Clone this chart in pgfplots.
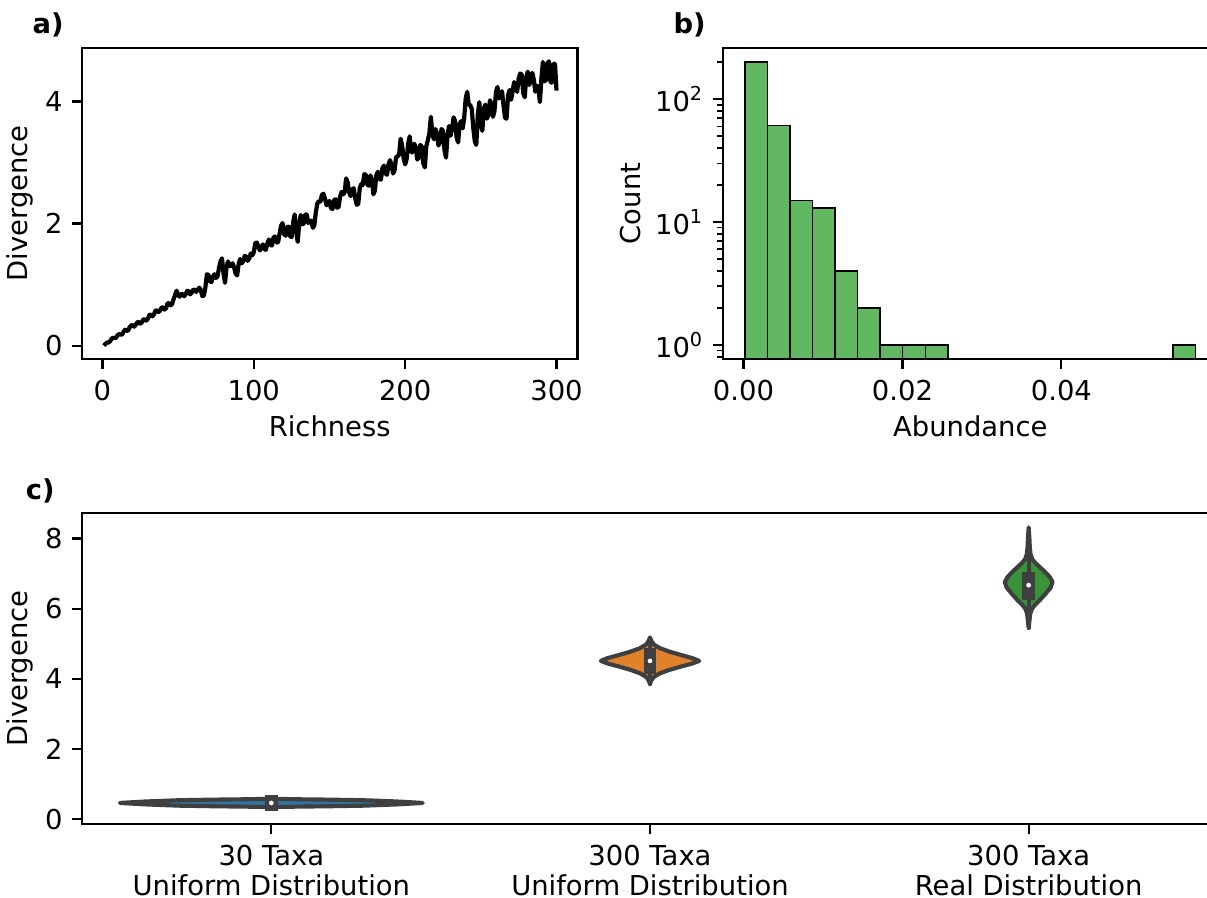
\documentclass[border=0pt]{standalone}
\usepackage{fontspec}
\setmainfont{DejaVu Sans}
\usepackage{pgfplots}
\pgfplotsset{compat=1.18}
\definecolor{histgreen}{HTML}{61B861}
\definecolor{vblue}{HTML}{3274A1}
\definecolor{vorange}{HTML}{E1812C}
\definecolor{vgreen}{HTML}{3A923A}
\definecolor{vgray}{HTML}{3F3F3F}
\newcommand\fs{\fontsize{13.7}{15}\selectfont}

\pgfplotsset{
  mplstyle/.style={
    scale only axis,
    anchor=south west,
    axis line style={line width=1.1pt},
    tick style={black, line width=1.1pt},
    minor tick style={line width=0.83pt},
    major tick length=4.8pt,
    minor tick length=2.75pt,
    tick align=outside,
    tick pos=left,
    tick label style={font=\fs},
    label style={font=\fs},
    /pgf/number format/assume math mode=true,
    xticklabel style={anchor=north, inner sep=0pt, yshift=-5.7pt},
    yticklabel style={anchor=east, inner sep=0pt, xshift=-4.7pt},
    xlabel style={at={(axis description cs:0.5,0)}, anchor=base, yshift=-39pt},
  },
}

\begin{document}
\begin{tikzpicture}

% a) divergence against richness
\begin{axis}[mplstyle, at={(41pt,269.5pt)}, width=247.7pt, height=155.5pt,
  xmin=-13.5, xmax=313.8, ymin=-0.219, ymax=4.878,
  xtick={0,100,200,300}, ytick={0,2,4},
  xticklabels={0,100,200,300}, yticklabels={0,2,4},
  xlabel={Richness}, ylabel={Divergence},
  ylabel style={at={(axis description cs:-0.1252,0.5)}, anchor=center}]
\addplot[black, line width=2.1pt, line join=round] coordinates {
(1,0.00)(2,0.03)(3,0.05)(4,0.05)(5,0.07)(6,0.11)(7,0.13)(8,0.12)(9,0.13)(10,0.17)
(11,0.19)(12,0.18)(13,0.18)(14,0.23)(15,0.26)(16,0.24)(17,0.25)(18,0.30)(19,0.33)(20,0.34)
(21,0.31)(22,0.34)(23,0.38)(24,0.39)(25,0.36)(26,0.38)(27,0.43)(28,0.43)(29,0.41)(30,0.44)
(31,0.50)(32,0.51)(33,0.48)(34,0.51)(35,0.57)(36,0.58)(37,0.55)(38,0.57)(39,0.62)(40,0.63)
(41,0.59)(42,0.61)(43,0.69)(44,0.70)(45,0.66)(46,0.68)(47,0.76)(48,0.83)(49,0.90)(50,0.83)
(51,0.80)(52,0.85)(53,0.84)(54,0.81)(55,0.84)(56,0.90)(57,0.89)(58,0.84)(59,0.87)(60,0.92)
(61,0.91)(62,0.88)(63,0.92)(64,0.95)(65,0.91)(66,0.81)(67,0.82)(68,0.95)(69,1.17)(70,1.16)
(71,1.06)(72,1.04)(73,1.13)(74,1.17)(75,1.11)(76,1.13)(77,1.27)(78,1.38)(79,1.43)(80,1.18)
(81,1.03)(82,1.29)(83,1.38)(84,1.30)(85,1.31)(86,1.35)(87,1.28)(88,1.18)(89,1.15)(90,1.34)
(91,1.42)(92,1.35)(93,1.38)(94,1.47)(95,1.46)(96,1.39)(97,1.43)(98,1.51)(99,1.48)(100,1.53)
(101,1.68)(102,1.69)(103,1.62)(104,1.56)(105,1.62)(106,1.66)(107,1.58)(108,1.57)(109,1.68)(110,1.74)
(111,1.65)(112,1.64)(113,1.77)(114,1.79)(115,1.69)(116,1.69)(117,1.83)(118,1.96)(119,2.01)(120,1.83)
(121,1.80)(122,1.94)(123,1.95)(124,1.79)(125,1.78)(126,2.02)(127,2.15)(128,1.87)(129,1.70)(130,2.00)
(131,2.14)(132,1.99)(133,2.00)(134,2.15)(135,2.15)(136,2.01)(137,2.03)(138,2.05)(139,1.93)(140,1.97)
(141,2.19)(142,2.33)(143,2.37)(144,2.36)(145,2.47)(146,2.49)(147,2.41)(148,2.30)(149,2.35)(150,2.37)
(151,2.25)(152,2.24)(153,2.38)(154,2.40)(155,2.26)(156,2.27)(157,2.44)(158,2.52)(159,2.48)(160,2.51)
(161,2.74)(162,2.68)(163,2.51)(164,2.45)(165,2.56)(166,2.58)(167,2.42)(168,2.31)(169,2.32)(170,2.58)
(171,2.65)(172,2.63)(173,2.81)(174,2.80)(175,2.64)(176,2.62)(177,2.79)(178,2.73)(179,2.48)(180,2.54)
(181,2.80)(182,2.85)(183,2.73)(184,2.72)(185,2.91)(186,2.95)(187,2.82)(188,2.80)(189,2.97)(190,3.04)
(191,2.96)(192,2.82)(193,2.87)(194,3.09)(195,3.10)(196,3.13)(197,3.39)(198,3.28)(199,3.07)(200,2.97)
(201,3.06)(202,3.31)(203,3.43)(204,3.17)(205,3.17)(206,3.31)(207,3.25)(208,3.05)(209,3.08)(210,3.29)
(211,3.26)(212,2.99)(213,2.92)(214,3.27)(215,3.37)(216,3.48)(217,3.75)(218,3.47)(219,3.38)(220,3.55)
(221,3.48)(222,3.28)(223,3.34)(224,3.55)(225,3.52)(226,3.20)(227,3.08)(228,3.44)(229,3.60)(230,3.44)
(231,3.56)(232,3.74)(233,3.68)(234,3.41)(235,3.33)(236,3.63)(237,3.68)(238,3.56)(239,3.73)(240,4.05)
(241,4.16)(242,3.95)(243,3.94)(244,3.88)(245,3.57)(246,3.35)(247,3.29)(248,3.79)(249,3.99)(250,3.61)
(251,3.52)(252,3.89)(253,3.95)(254,3.72)(255,3.78)(256,4.02)(257,3.96)(258,3.75)(259,3.84)(260,4.16)
(261,4.24)(262,4.05)(263,4.10)(264,4.17)(265,3.93)(266,3.73)(267,3.72)(268,4.10)(269,4.19)(270,4.03)
(271,4.17)(272,4.32)(273,4.23)(274,4.16)(275,4.38)(276,4.46)(277,4.44)(278,4.14)(279,4.07)(280,4.40)
(281,4.49)(282,4.27)(283,4.35)(284,4.47)(285,4.36)(286,4.16)(287,4.26)(288,4.23)(289,3.99)(290,4.37)
(291,4.65)(292,4.33)(293,4.35)(294,4.63)(295,4.66)(296,4.32)(297,4.31)(298,4.62)(299,4.62)(300,4.18)
};
\end{axis}

% b) abundance histogram, log counts
\begin{axis}[mplstyle, at={(361.3pt,269.5pt)}, width=247.7pt, height=155.5pt,
  ymode=log, log origin=infty,
  xmin=-0.00263, xmax=0.05971, ymin=0.769, ymax=260.6,
  scaled x ticks=false,
  xtick={0,0.02,0.04}, xticklabels={0.00,0.02,0.04},
  ytick={1,10,100},
  yticklabels={10\textsuperscript{0},10\textsuperscript{1},10\textsuperscript{2}},
  minor ytick={0.8,0.9,2,3,4,5,6,7,8,9,20,30,40,50,60,70,80,90,200},
  xlabel={Abundance}, ylabel={Count},
  ylabel style={at={(axis description cs:-0.1866,0.5)}, anchor=center}]
\addplot[ybar, bar width=0.002834, bar shift=0pt, fill=histgreen, draw=black, line width=0.75pt]
  coordinates {
  (0.001617,201) (0.004451,61) (0.007285,15) (0.010119,13) (0.012953,4)
  (0.015787,2) (0.018621,1) (0.021455,1) (0.024289,1) (0.055463,1)
};
\end{axis}

% c) violins
\begin{axis}[mplstyle, at={(41pt,37pt)}, width=568pt, height=155.35pt,
  xmin=-0.5, xmax=2.5, ymin=-0.14, ymax=8.72,
  xtick={0,1,2},
  xticklabels={{30 Taxa\\Uniform Distribution},{300 Taxa\\Uniform Distribution},{300 Taxa\\Real Distribution}},
  xticklabel style={align=center},
  ytick={0,2,4,6,8}, yticklabels={0,2,4,6,8},
  ylabel={Divergence},
  ylabel style={at={(axis description cs:-0.0546,0.5)}, anchor=center}]
\addplot[fill=vblue, draw=vgray, line width=2.06pt, line join=round, line cap=round] coordinates {
(0,0.33)(0.02,0.345)(0.07,0.355)(0.15,0.365)(0.243,0.382)(0.33,0.417)(0.40,0.46)
(0.33,0.503)(0.243,0.538)(0.15,0.555)(0.07,0.565)(0.02,0.575)(0,0.59)
(-0.02,0.575)(-0.07,0.565)(-0.15,0.555)(-0.243,0.538)(-0.33,0.503)(-0.40,0.46)
(-0.33,0.417)(-0.243,0.382)(-0.15,0.365)(-0.07,0.355)(-0.02,0.345)(0,0.33)
};
\addplot[fill=vorange, draw=vgray, line width=2.06pt, line join=round, line cap=round] coordinates {
(1,3.85)(1.003,3.95)(1.010,4.05)(1.025,4.15)(1.050,4.25)(1.082,4.35)(1.110,4.43)(1.130,4.51)
(1.112,4.59)(1.085,4.67)(1.053,4.77)(1.027,4.87)(1.011,4.97)(1.004,5.07)(1,5.18)
(0.996,5.07)(0.989,4.97)(0.973,4.87)(0.947,4.77)(0.915,4.67)(0.888,4.59)(0.870,4.51)(0.890,4.43)
(0.918,4.35)(0.950,4.25)(0.975,4.15)(0.990,4.05)(0.997,3.95)(1,3.85)
};
\addplot[fill=vgreen, draw=vgray, line width=2.06pt, line join=round, line cap=round] coordinates {
(2,5.45)(2.002,5.65)(2.004,5.85)(2.009,6.00)(2.016,6.10)(2.030,6.25)(2.045,6.43)(2.058,6.60)
(2.063,6.76)(2.056,6.90)(2.043,7.05)(2.029,7.19)(2.018,7.30)(2.010,7.40)(2.005,7.55)(2.003,7.75)
(2.002,8.00)(2,8.32)
(1.998,8.00)(1.997,7.75)(1.995,7.55)(1.990,7.40)(1.982,7.30)(1.971,7.19)(1.957,7.05)(1.944,6.90)
(1.937,6.76)(1.942,6.60)(1.955,6.43)(1.970,6.25)(1.984,6.10)(1.991,6.00)(1.996,5.85)(1.998,5.65)(2,5.45)
};
% whiskers
\addplot[vgray, line width=2.06pt, line cap=rect] coordinates {(0,0.31)(0,0.62)};
\addplot[vgray, line width=2.06pt, line cap=rect] coordinates {(1,3.88)(1,5.13)};
\addplot[vgray, line width=2.06pt, line cap=rect] coordinates {(2,5.49)(2,8.27)};
% boxes
\addplot[vgray, line width=6.2pt, line cap=rect] coordinates {(0,0.41)(0,0.52)};
\addplot[vgray, line width=6.2pt, line cap=rect] coordinates {(1,4.32)(1,4.69)};
\addplot[vgray, line width=6.2pt, line cap=rect] coordinates {(2,6.41)(2,6.88)};
% medians
\addplot[only marks, mark=*, mark size=1.8pt, mark options={fill=white, draw=vgray, line width=1pt}]
  coordinates {(0,0.46) (1,4.51) (2,6.67)};
\end{axis}

\node[anchor=base west, inner sep=0pt, font=\fs\bfseries] at (16.15pt,432.35pt) {a)};
\node[anchor=base west, inner sep=0pt, font=\fs\bfseries] at (336.6pt,432.35pt) {b)};
\node[anchor=base west, inner sep=0pt, font=\fs\bfseries] at (12.75pt,199pt) {c)};

\pgfresetboundingbox
\path[use as bounding box] (0,0) rectangle (603.5pt,449pt);
\end{tikzpicture}
\end{document}
